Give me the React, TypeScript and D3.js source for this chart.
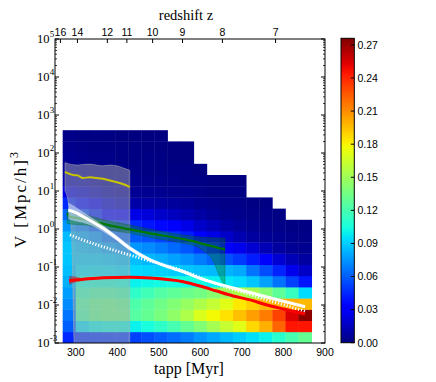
import React from "react";
import * as d3 from "d3";

// histogram bins (tapp in Myr, log10 V)
const tappEdges = [268.5, 300.0, 331.6, 363.1, 394.7, 426.2, 457.7, 489.3, 520.8, 552.4,
  583.9, 615.4, 647.0, 678.5, 710.1, 741.6, 773.1, 804.7, 836.2, 867.8];
const logVEdges = [-3, -2.705, -2.411, -2.116, -1.821, -1.527, -1.232, -0.937, -0.642, -0.348,
  -0.053, 0.242, 0.536, 0.831, 1.126, 1.421, 1.715, 2.01, 2.305, 2.6];

// one array per tapp column, from the lowest V bin upward
const density = [
  [0.045, 0.06, 0.066, 0.072, 0.077, 0.082, 0.086, 0.088, 0.088, 0.085, 0.075, 0.062, 0.045, 0.024, 0.012, 0.006, 0.004, 0.003, 0.002],
  [0.048, 0.095, 0.12, 0.122, 0.115, 0.104, 0.095, 0.09, 0.086, 0.08, 0.07, 0.055, 0.038, 0.02, 0.01, 0.005, 0.003, 0.002, 0.001],
  [0.049, 0.1, 0.128, 0.128, 0.12, 0.106, 0.096, 0.09, 0.084, 0.075, 0.062, 0.045, 0.028, 0.014, 0.007, 0.004, 0.002, 0.001, 0.001],
  [0.05, 0.102, 0.13, 0.13, 0.12, 0.106, 0.095, 0.088, 0.08, 0.068, 0.053, 0.035, 0.02, 0.01, 0.005, 0.003, 0.002, 0.001, 0.001],
  [0.051, 0.102, 0.13, 0.128, 0.118, 0.104, 0.093, 0.086, 0.076, 0.063, 0.048, 0.03, 0.015, 0.007, 0.004, 0.002, 0.001, 0.001, 0],
  [0.052, 0.1, 0.125, 0.122, 0.112, 0.1, 0.093, 0.086, 0.075, 0.06, 0.045, 0.025, 0.01, 0.005, 0.003, 0.002, 0.001, 0.001, 0],
  [0.056, 0.105, 0.13, 0.128, 0.118, 0.102, 0.092, 0.084, 0.072, 0.057, 0.04, 0.021, 0.009, 0.004, 0.002, 0.001, 0.001, 0, 0],
  [0.06, 0.112, 0.137, 0.134, 0.124, 0.103, 0.091, 0.082, 0.068, 0.053, 0.036, 0.018, 0.008, 0.004, 0.002, 0.001, 0.001, 0, 0],
  [0.064, 0.12, 0.145, 0.14, 0.128, 0.104, 0.09, 0.078, 0.063, 0.048, 0.03, 0.015, 0.007, 0.003, 0.002, 0.001, 0, 0],
  [0.068, 0.13, 0.155, 0.147, 0.132, 0.104, 0.088, 0.074, 0.058, 0.042, 0.025, 0.012, 0.006, 0.003, 0.001, 0.001, 0, 0],
  [0.075, 0.14, 0.17, 0.155, 0.135, 0.103, 0.086, 0.068, 0.05, 0.033, 0.018, 0.009, 0.004, 0.002, 0.001, 0],
  [0.08, 0.152, 0.178, 0.162, 0.142, 0.1, 0.085, 0.062, 0.042, 0.025, 0.013, 0.006, 0.003, 0.001, 0],
  [0.085, 0.163, 0.185, 0.172, 0.15, 0.097, 0.083, 0.056, 0.034, 0.018, 0.009, 0.004, 0.002, 0.001, 0],
  [0.09, 0.172, 0.195, 0.183, 0.155, 0.094, 0.08, 0.05, 0.026, 0.012, 0.006, 0.003, 0.002, 0.001, 0],
  [0.095, 0.188, 0.205, 0.19, 0.152, 0.088, 0.066, 0.042, 0.02, 0.008, 0.004, 0.002, 0.001],
  [0.1, 0.2, 0.215, 0.197, 0.14, 0.078, 0.055, 0.03, 0.013, 0.005, 0.003, 0.002, 0.001],
  [0.11, 0.222, 0.232, 0.2, 0.128, 0.066, 0.044, 0.02, 0.008, 0.004, 0.002, 0.001],
  [0.12, 0.245, 0.254, 0.2, 0.115, 0.052, 0.026, 0.013, 0.005, 0.003, 0.001],
  [0.13, 0.245, 0.273, 0.197, 0.094, 0.04, 0.017, 0.008, 0.004, 0.002, 0.001],
];

const vmax = 0.276;
const cbTicks = [0, 0.03, 0.06, 0.09, 0.12, 0.15, 0.18, 0.21, 0.24, 0.27];
const xTicks = [300, 400, 500, 600, 700, 800, 900];
const yDecades = [-3, -2, -1, 0, 1, 2, 3, 4, 5];
const zTicks = [16, 14, 12, 11, 10, 9, 8, 7];
const zTickTapp = [263, 304, 376, 423, 485, 557, 653, 781];

// yellow line + grey band
const yellowT = [274, 282, 290, 296, 303, 317, 334, 350, 365, 382, 399, 415, 430];
const yellowV = [32, 29, 27, 26, 26, 22, 23, 22, 21, 19, 17, 15, 12.7];
const yellowHi = [56, 52, 50, 49, 48, 50, 51, 48, 46, 48, 46, 40, 35];
const yellowLo = [10, 5, 0.6, 0.001, 1e-5, 1e-5, 1e-5, 1e-5, 1e-5, 1e-5, 1e-5, 1e-5, 1e-5];

// green line + band
const greenT = [279, 286, 326, 366, 430, 479, 559, 592, 607, 630, 647, 655, 659];
const greenV = [2.6, 2.1, 1.8, 1.36, 0.98, 0.77, 0.54, 0.45, 0.4, 0.35, 0.31, 0.3, 0.29];
const greenHi = [3.2, 3.0, 2.33, 1.75, 1.27, 1.0, 0.69, 0.63, 0.61, 0.59, 0.58, 0.57, 0.57];
const greenLo = [1.41, 1.35, 1.27, 1.0, 0.78, 0.6, 0.42, 0.34, 0.27, 0.153, 0.055, 0.038, 0.035];

// white line + band
const whiteT = [282, 300, 318, 340, 366, 398, 430, 479, 520, 559, 599, 639, 679, 720, 760, 800, 852];
const whiteV = [3.16, 2.7, 2.11, 1.55, 1.04, 0.58, 0.31, 0.153, 0.103, 0.075, 0.05, 0.037, 0.028, 0.0213, 0.0162, 0.0125, 0.009];
const whiteHi = [5.0, 3.8, 2.8, 1.95, 1.25, 0.68, 0.36, 0.168, 0.11, 0.079, 0.052, 0.0385, 0.029, 0.022, 0.0168, 0.013, 0.0094];
const whiteLo = [1.8, 1.6, 1.45, 1.2, 0.85, 0.5, 0.27, 0.14, 0.097, 0.071, 0.048, 0.0355, 0.027, 0.0206, 0.0156, 0.012, 0.0086];

// white dotted line
const dotT = [286, 318, 366, 430, 479, 559, 639, 720, 760, 800, 852];
const dotV = [0.7, 0.51, 0.34, 0.207, 0.144, 0.0785, 0.0357, 0.0189, 0.0136, 0.0102, 0.0067];

// red line + band
const redT = [284, 300, 318, 366, 430, 479, 559, 599, 639, 679, 720, 760, 800, 852];
const redV = [0.0436, 0.0455, 0.0474, 0.0522, 0.0536, 0.0514, 0.041, 0.0316, 0.0233, 0.0173, 0.0136, 0.01, 0.00785, 0.0058];
const redHi = [0.058, 0.056, 0.051, 0.055, 0.056, 0.054, 0.043, 0.033, 0.0244, 0.0181, 0.0142, 0.0105, 0.0082, 0.0061];
const redLo = [0.033, 0.04, 0.044, 0.05, 0.051, 0.049, 0.039, 0.030, 0.0222, 0.0165, 0.013, 0.0095, 0.0075, 0.0055];

const jr = d3.scaleLinear().domain([0, 0.35, 0.66, 0.89, 1]).range([0, 0, 1, 1, 0.5]).clamp(true);
const jg = d3.scaleLinear().domain([0, 0.125, 0.375, 0.64, 0.91, 1]).range([0, 0, 1, 1, 0, 0]).clamp(true);
const jb = d3.scaleLinear().domain([0, 0.11, 0.34, 0.65, 1]).range([0.5, 1, 1, 0, 0]).clamp(true);
function jet(t: number) {
  return d3.rgb(jr(t) * 255, jg(t) * 255, jb(t) * 255).formatHex();
}

const sans = "'Liberation Sans', Arial, sans-serif";
const serif = "'Liberation Serif', 'Times New Roman', serif";

export default function App() {
  const width = 436,
    height = 382;
  const left = 55,
    right = 325,
    top = 39,
    bottom = 343;

  const x = d3.scaleLinear().domain([250, 900]).range([left, right]);
  const y = d3.scaleLog().domain([1e-3, 1e5]).range([bottom, top]);
  const color = d3.scaleLinear().domain([0, vmax]).range([0, 1]);
  const cb = d3.scaleLinear().domain([0, vmax]).range([342.7, 38.3]);

  const zip = (t: number[], v: number[]) => t.map((d, i) => [d, v[i]] as [number, number]);
  const line = d3
    .line<[number, number]>()
    .x(d => x(d[0]))
    .y(d => y(d[1]))
    .curve(d3.curveMonotoneX);
  const band = (t: number[], lo: number[], hi: number[]) =>
    d3
      .area<number>()
      .x(d => x(d))
      .y0((d, i) => y(lo[i]))
      .y1((d, i) => y(hi[i]))
      .curve(d3.curveMonotoneX)(t) as string;

  const minor: number[] = [];
  yDecades.slice(0, -1).forEach(e => {
    for (let k = 2; k < 10; k++) minor.push(k * Math.pow(10, e));
  });

  const gradStops = d3.range(0, 1.0001, 0.02);

  return (
    <svg width={width} height={height} style={{ position: "absolute", left: 0, top: 0, background: "#fff" }}>
      <defs>
        <clipPath id="plotclip">
          <rect x={left} y={top} width={right - left} height={bottom - top} />
        </clipPath>
        <linearGradient id="jetgrad" x1="0" y1="1" x2="0" y2="0">
          {gradStops.map(t => (
            <stop key={t} offset={t} stopColor={jet(t)} />
          ))}
        </linearGradient>
      </defs>

      <g clipPath="url(#plotclip)">
        {density.map((col, c) =>
          col.map((v, r) => {
            const x0 = x(tappEdges[c]),
              x1 = x(tappEdges[c + 1]);
            const y0 = y(Math.pow(10, logVEdges[r + 1])),
              y1 = y(Math.pow(10, logVEdges[r]));
            return (
              <rect
                key={c + "-" + r}
                x={x0}
                y={y0}
                width={x1 - x0 + 0.4}
                height={y1 - y0 + 0.4}
                fill={jet(color(v))}
              />
            );
          })
        )}

        <path d={band(yellowT, yellowLo, yellowHi)} fill="#a8a8a8" fillOpacity={0.5} stroke="#b0b0b0" strokeOpacity={0.6} strokeWidth={0.8} />
        <path d={line(zip(yellowT, yellowV)) as string} fill="none" stroke="#c8c400" strokeWidth={2} />

        <path d={band(greenT, greenLo, greenHi)} fill="#008000" fillOpacity={0.35} stroke="#006000" strokeOpacity={0.4} strokeWidth={0.8} />
        <path d={line(zip(greenT, greenV)) as string} fill="none" stroke="#007a00" strokeWidth={2.2} />

        <path d={band(whiteT, whiteLo, whiteHi)} fill="#dde8ff" fillOpacity={0.55} />
        <path d={line(zip(whiteT, whiteV)) as string} fill="none" stroke="#ffffff" strokeWidth={3} />
        <path d={line(zip(dotT, dotV)) as string} fill="none" stroke="#ffffff" strokeWidth={3} strokeDasharray="1.2,1.8" />

        <path d={band(redT, redLo, redHi)} fill="#d00000" fillOpacity={0.45} />
        <path d={line(zip(redT, redV)) as string} fill="none" stroke="#ff0000" strokeWidth={3} />
      </g>

      {/* frame and ticks */}
      <rect x={left} y={top} width={right - left} height={bottom - top} fill="none" stroke="#000" strokeWidth={1} />
      {yDecades.map(e => (
        <g key={"yt" + e}>
          <line x1={left} x2={left + 4} y1={y(Math.pow(10, e))} y2={y(Math.pow(10, e))} stroke="#000" />
          <line x1={right} x2={right - 4} y1={y(Math.pow(10, e))} y2={y(Math.pow(10, e))} stroke="#000" />
        </g>
      ))}
      {minor.map(v => (
        <g key={"ym" + v}>
          <line x1={left} x2={left + 2} y1={y(v)} y2={y(v)} stroke="#000" strokeWidth={0.8} />
          <line x1={right} x2={right - 2} y1={y(v)} y2={y(v)} stroke="#000" strokeWidth={0.8} />
        </g>
      ))}
      {zTickTapp.map((t, i) => (
        <line key={"zt" + i} x1={x(t)} x2={x(t)} y1={top} y2={top + 4} stroke="#000" />
      ))}

      {/* tick labels */}
      {yDecades.map(e => (
        <g key={"yl" + e} fontFamily={serif}>
          <text x={49.5} y={y(Math.pow(10, e)) + 4.2} fontSize={12.5} textAnchor="end">
            10
          </text>
          <text x={49.8} y={y(Math.pow(10, e)) - 1.8} fontSize={9}>
            {e < 0 ? "-" + -e : e}
          </text>
        </g>
      ))}
      {xTicks.map(t => (
        <text key={"xl" + t} x={x(t)} y={356} fontSize={10.5} fontFamily={sans} textAnchor="middle">
          {t}
        </text>
      ))}
      {zTicks.map((z, i) => (
        <text key={"zl" + z} x={x(zTickTapp[i])} y={36} fontSize={10.5} fontFamily={sans} textAnchor="middle">
          {z}
        </text>
      ))}

      {/* axis labels */}
      <text x={186} y={20} fontSize={14.5} fontFamily={serif} textAnchor="middle">
        redshift z
      </text>
      <text x={189} y={374} fontSize={16} fontFamily={serif} textAnchor="middle">
        tapp [Myr]
      </text>
      <text transform="translate(26,199) rotate(-90)" fontSize={17} letterSpacing={2} fontFamily={serif} textAnchor="middle">
        V [Mpc/h]<tspan fontSize={12} dy={-8}>3</tspan>
      </text>

      {/* colorbar */}
      <rect x={341} y={38.3} width={13.3} height={342.7 - 38.3} fill="url(#jetgrad)" stroke="#000" strokeWidth={1} />
      {cbTicks.map(v => (
        <g key={"cb" + v}>
          <line x1={354.3} x2={350.8} y1={cb(v)} y2={cb(v)} stroke="#000" />
          <text x={357.5} y={cb(v) + 3.8} fontSize={10.5} fontFamily={sans}>
            {v.toFixed(2)}
          </text>
        </g>
      ))}
    </svg>
  );
}
